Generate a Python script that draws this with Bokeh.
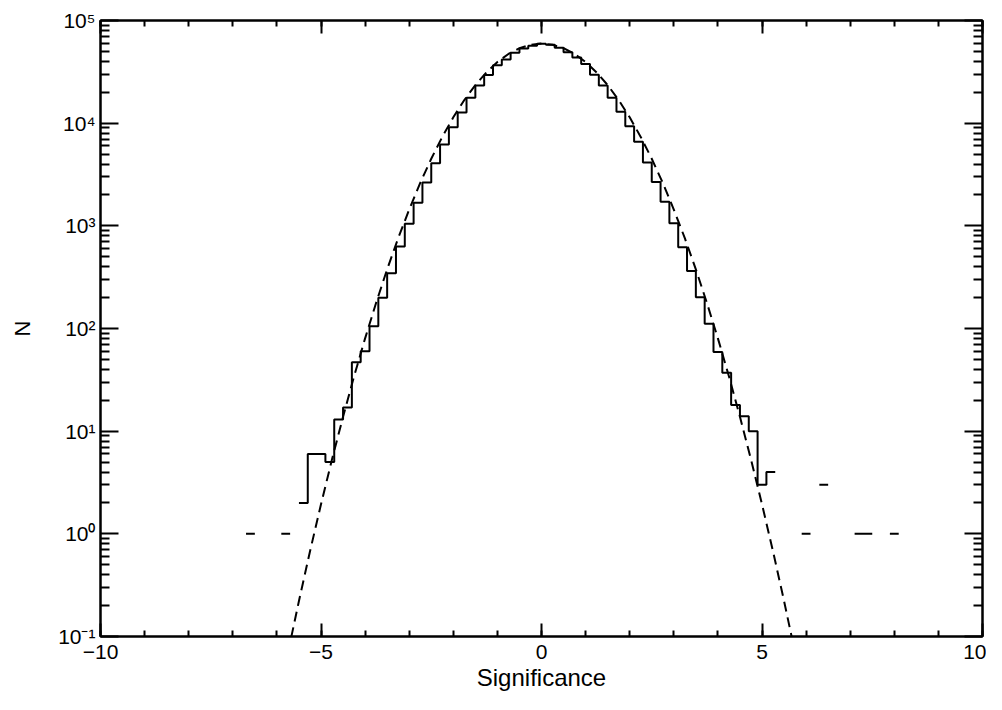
import numpy as np
from bokeh.plotting import figure
from bokeh.models import LinearAxis, LogAxis, FixedTicker, Range1d, CustomJSTickFormatter
from bokeh.embed import file_html
from bokeh.resources import INLINE

# ---------------- data ----------------
bin_width = 0.2
bin_centers = np.round(np.arange(-6.6, 8.0 + 1e-9, bin_width), 1)
counts = [
    1, 0, 0, 0, 1, 0, 2, 6, 6, 5,              # -6.6 .. -4.8
    13, 17, 47, 60, 105, 199, 346, 630, 1050, 1680,   # -4.6 .. -2.8
    2650, 4070, 6200, 9140, 12700, 17700, 23300, 29500, 36600, 41700,  # -2.6 .. -0.8
    48400, 53500, 56900,                         # -0.6 .. -0.2
    59200, 58200, 54300, 49000, 43700, 37600, 29700, 23300, 17700, 12900,  # 0.0 .. 1.8
    9350, 6580, 4130, 2680, 1720, 1060, 617, 364, 202, 111,   # 2.0 .. 3.8
    59, 37, 18, 14, 10, 3, 4, 0, 0, 0,           # 4.0 .. 5.8
    1, 0, 3, 0, 0, 0, 1, 1, 0, 0,                # 6.0 .. 7.8
    1,                                           # 8.0
]

gauss_x = [-5.75, -5.5, -5.25, -5.0, -4.75, -4.5, -4.25, -4.0, -3.75, -3.5, -3.25, -3.0,
           -2.75, -2.5, -2.25, -2.0, -1.75, -1.5, -1.25, -1.0, -0.75, -0.5, -0.25, 0.0,
           0.25, 0.5, 0.75, 1.0, 1.25, 1.5, 1.75, 2.0, 2.25, 2.5, 2.75, 3.0,
           3.25, 3.5, 3.75, 4.0, 4.25, 4.5, 4.75, 5.0, 5.25, 5.5, 5.75]
gauss_y = [0.0694, 0.222, 0.674, 1.94, 5.32, 13.8, 34.2, 80.1, 178, 377, 758, 1440,
           2620, 4500, 7350, 11400, 16800, 23500, 31200, 39400, 47200, 53700, 58000, 59600,
           58000, 53700, 47200, 39400, 31200, 23500, 16800, 11400, 7350, 4500, 2620, 1440,
           758, 377, 178, 80.1, 34.2, 13.8, 5.32, 1.94, 0.674, 0.222, 0.0694]

x_ticks = [-10, -5, 0, 5, 10]
x_tick_labels = ["\u221210", "\u22125", "0", "5", "10"]
x_minor = list(range(-10, 11))
y_ticks = [0.1, 1, 10, 100, 1000, 10000, 100000]
y_tick_labels = ["10\u207b\u00b9", "10\u2070", "10\u00b9", "10\u00b2", "10\u00b3", "10\u2074", "10\u2075"]
y_minor = [m * 10.0 ** e for e in range(-1, 5) for m in range(2, 10)]

FONT = "Liberation Sans"

# ---------------- histogram paths (runs of non-zero bins) ----------------
xs, ys = [], []
cur_x, cur_y = [], []
for c, n in zip(bin_centers, counts):
    if n > 0:
        lo, hi = c - bin_width / 2, c + bin_width / 2
        cur_x += [lo, hi]
        cur_y += [n, n]
    else:
        if cur_x:
            xs.append(cur_x); ys.append(cur_y)
        cur_x, cur_y = [], []
if cur_x:
    xs.append(cur_x); ys.append(cur_y)

# ---------------- figure ----------------
p = figure(width=986, height=694, x_range=Range1d(-10, 10), y_range=Range1d(0.1, 1e5),
           y_axis_type="log", output_backend="svg", toolbar_location=None,
           min_border_left=100, min_border_right=4, min_border_top=20, min_border_bottom=58)
p.grid.visible = False
p.outline_line_color = "black"
p.outline_line_width = 2
p.background_fill_color = "white"
p.border_fill_color = "white"

p.multi_line(xs, ys, line_color="black", line_width=2)
p.line(gauss_x, gauss_y, line_color="black", line_width=2, line_dash="10 6")

xticker = FixedTicker(ticks=x_ticks, minor_ticks=x_minor)
yticker = FixedTicker(ticks=y_ticks, minor_ticks=y_minor)

def style_x(ax):
    ax.ticker = xticker
    ax.axis_line_width = 2
    ax.axis_line_color = "black"
    ax.major_tick_line_width = 2
    ax.minor_tick_line_width = 2
    ax.major_tick_line_color = "black"
    ax.minor_tick_line_color = "black"
    ax.major_tick_in = 13
    ax.major_tick_out = 0
    ax.minor_tick_in = 6
    ax.minor_tick_out = 0

def style_y(ax):
    ax.ticker = yticker
    ax.axis_line_width = 2
    ax.axis_line_color = "black"
    ax.major_tick_line_width = 2
    ax.minor_tick_line_width = 2
    ax.major_tick_line_color = "black"
    ax.minor_tick_line_color = "black"
    ax.major_tick_in = 18
    ax.major_tick_out = 0
    ax.minor_tick_in = 9
    ax.minor_tick_out = 0

xa = p.xaxis[0]
style_x(xa)
xa.major_label_overrides = dict(zip(x_ticks, x_tick_labels))
xa.major_label_text_font = FONT
xa.major_label_text_font_size = "21px"
xa.major_label_text_color = "black"
xa.major_label_standoff = 8
xa.axis_label = "Significance"
xa.axis_label_text_font = FONT
xa.axis_label_text_font_size = "24px"
xa.axis_label_text_font_style = "normal"
xa.axis_label_text_color = "black"
xa.axis_label_standoff = 2

ya = p.yaxis[0]
style_y(ya)
ya.major_label_overrides = dict(zip(y_ticks, y_tick_labels))
ya.major_label_text_font = FONT
ya.major_label_text_font_size = "21px"
ya.major_label_text_color = "black"
ya.major_label_standoff = 5
ya.axis_label = "N"
ya.axis_label_text_font = FONT
ya.axis_label_text_font_size = "22px"
ya.axis_label_text_font_style = "normal"
ya.axis_label_text_color = "black"
ya.axis_label_standoff = 20

blank = CustomJSTickFormatter(code="return ''")
top = LinearAxis(formatter=blank, major_label_text_font_size="0px", major_label_standoff=0)
style_x(top)
p.add_layout(top, "above")
right = LogAxis(formatter=blank, major_label_text_font_size="0px", major_label_standoff=0)
style_y(right)
p.add_layout(right, "right")

open("out.html", "w").write(file_html(p, INLINE))
